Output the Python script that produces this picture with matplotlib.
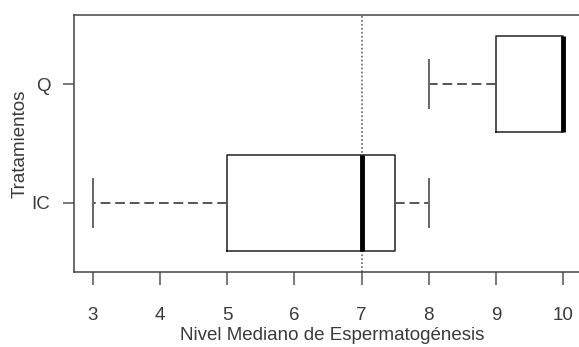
import matplotlib
matplotlib.use('Agg')
import matplotlib.pyplot as plt

plt.rcParams['font.family'] = ['Liberation Sans', 'DejaVu Sans']

# datos del boxplot
tratamientos = ['IC', 'Q']
minimos = [3, 8]
cuartil1 = [5, 9]
medianas = [7, 10]
cuartil3 = [7.5, 10]
maximos = [8, 10]
linea_ref = 7

stats = []
for i in range(len(tratamientos)):
    stats.append({'label': tratamientos[i], 'whislo': minimos[i], 'q1': cuartil1[i],
                  'med': medianas[i], 'q3': cuartil3[i], 'whishi': maximos[i], 'fliers': []})

fig = plt.figure(figsize=(5.79, 3.47), dpi=100)
# el borde derecho queda fuera de la imagen, como en la original
ax = fig.add_axes([74 / 579, 1 - 272 / 347, 516 / 579, 257 / 347])

ax.axvline(linea_ref, color='#777777', linestyle=(0, (1, 1.2)), linewidth=1.3, zorder=1)

ax.bxp(stats, positions=[1, 2], widths=0.8, vert=False, showfliers=False,
       boxprops=dict(color='#222222', linewidth=1.1),
       medianprops=dict(color='black', linewidth=3.5),
       whiskerprops=dict(color='#555555', linewidth=1.4, linestyle=(0, (5, 2.5))),
       capprops=dict(color='#666666', linewidth=1.4),
       capwidths=0.4, zorder=2)

ax.set_xlim(2.72, 10.40)
ax.set_ylim(0.42, 2.58)
ax.set_xticks(range(3, 11))
ax.set_yticks([1, 2])
ax.set_yticklabels(tratamientos)

for s in ax.spines.values():
    s.set_color('#444444')
    s.set_linewidth(1.1)
ax.spines['right'].set_visible(False)

ax.tick_params(axis='x', length=9, width=1.1, color='#555555', pad=16, labelsize=13.5, labelcolor='#3a3a3a')
ax.tick_params(axis='y', length=8, width=1.1, color='#555555', pad=9, labelsize=13.5, labelcolor='#3a3a3a')

ax.set_xlabel('Nivel Mediano de Espermatogénesis', fontsize=13.5, color='#3a3a3a', labelpad=2)
ax.set_ylabel('Tratamientos', fontsize=13.5, color='#3a3a3a', labelpad=2)

fig.savefig('out.png', dpi=100)
